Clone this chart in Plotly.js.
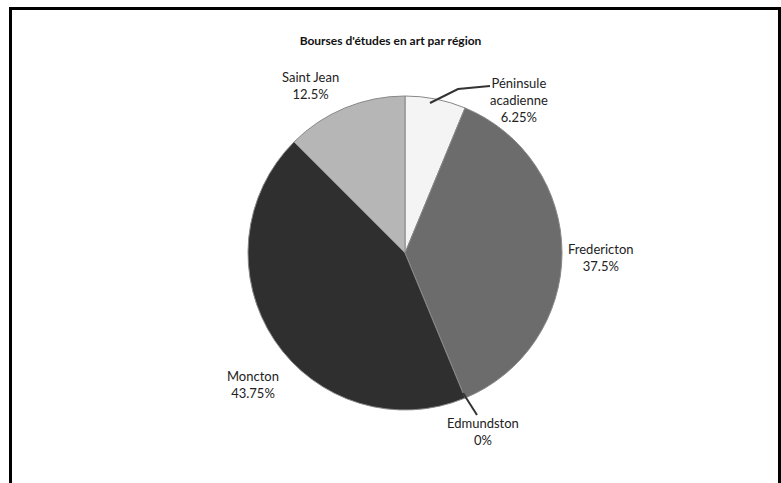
<!DOCTYPE html>
<html>
<head>
<meta charset="utf-8">
<script src="https://cdn.plot.ly/plotly-3.0.1.min.js"></script>
<style>html,body{margin:0;padding:0;background:#fff;}#chart{width:781px;height:483px;}</style>
</head>
<body>
<div id="chart"></div>
<script>
var regions = ["Péninsule acadienne", "Fredericton", "Edmundston", "Moncton", "Saint Jean"];
var labelLines = ["Péninsule<br>acadienne", "Fredericton", "Edmundston", "Moncton", "Saint Jean"];
var counts = [1, 6, 0, 7, 2];
var colors = ["#f4f4f4", "#6c6c6c", "#999999", "#2f2f2f", "#b6b6b6"];
var chartTitle = "Bourses d'études en art par région";

var W = 781, H = 483;
function px(x){ return x / W; }
function py(y){ return 1 - y / H; }

var total = counts.reduce(function(a,b){return a+b;}, 0);
var pctText = counts.map(function(v){
  var p = v / total * 100;
  return (Math.round(p * 100) / 100).toString() + "%";
});

// label centre positions (layout, pixels)
var labelPos = [[519, 100], [601, 257], [483, 431], [253, 384], [310, 86]];

var annotations = regions.map(function(r, i){
  return {
    xref: "paper", yref: "paper",
    x: px(labelPos[i][0]), y: py(labelPos[i][1]),
    text: labelLines[i] + "<br>" + pctText[i],
    showarrow: false, align: "center",
    xanchor: "center", yanchor: "middle",
    font: {family: "Lato, 'Open Sans', sans-serif", size: 13, color: "#222"}
  };
});

var shapes = [
  {type: "rect", xref: "paper", yref: "paper", x0: px(10.5), x1: px(779.5), y0: py(8.5), y1: -0.1,
   line: {color: "#000", width: 3}, fillcolor: "rgba(0,0,0,0)", layer: "above"},
  {type: "path", xref: "paper", yref: "paper",
   path: "M " + px(430) + "," + py(103) + " L " + px(458) + "," + py(89) + " L " + px(490) + "," + py(86),
   line: {color: "#333", width: 2}},
  {type: "path", xref: "paper", yref: "paper",
   path: "M " + px(463) + "," + py(393) + " L " + px(477) + "," + py(415),
   line: {color: "#333", width: 2}}
];

var data = [{
  type: "pie",
  labels: regions,
  values: counts,
  sort: false,
  direction: "clockwise",
  rotation: 0,
  textinfo: "none",
  hoverinfo: "label+percent",
  marker: {colors: colors, line: {color: "#888", width: 1}},
  domain: {x: [px(248), px(562)], y: [py(410), py(96)]},
  showlegend: false
}];

var layout = {
  width: W, height: H,
  margin: {l: 0, r: 0, t: 0, b: 0},
  paper_bgcolor: "#fff",
  title: {text: "<b>" + chartTitle + "</b>", x: 0.5, xanchor: "center", y: py(41), yanchor: "middle", yref: "paper",
          font: {family: "Lato, 'Open Sans', sans-serif", size: 12, color: "#111"}},
  annotations: annotations,
  shapes: shapes,
  showlegend: false
};

Plotly.newPlot("chart", data, layout, {displayModeBar: false, staticPlot: true});
</script>
</body>
</html>
